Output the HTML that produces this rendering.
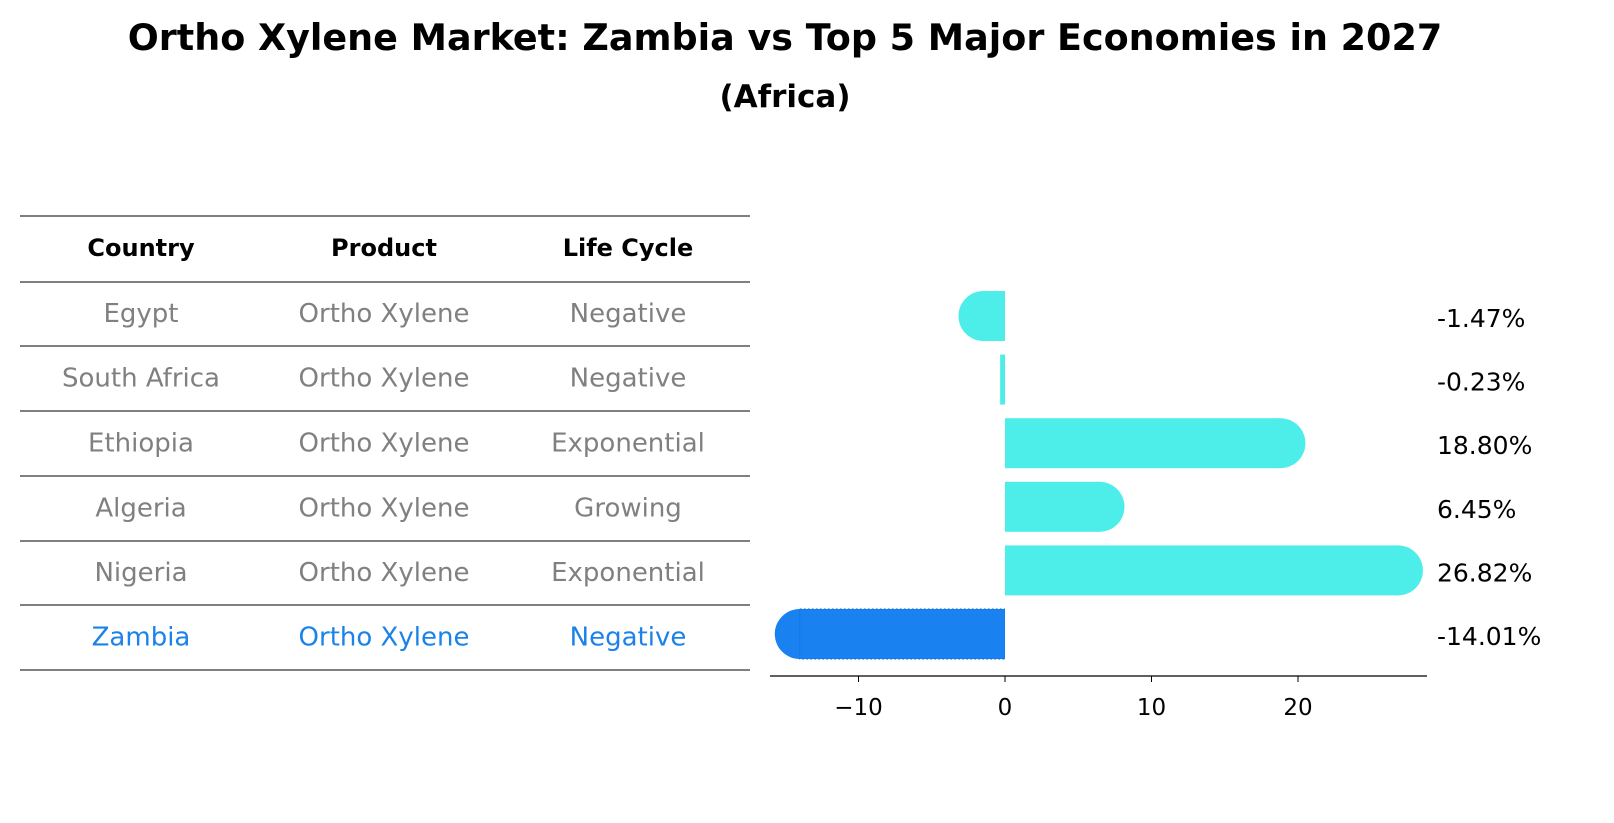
<!DOCTYPE html>
<html><head><meta charset="utf-8"><style>
html,body{margin:0;padding:0;background:#fff;overflow:hidden;width:1614px;height:823px;font-family:"Liberation Sans","DejaVu Sans",sans-serif;}
svg{display:block}
</style></head><body>
<svg width="1614" height="823" viewBox="0 0 1614 823" xmlns="http://www.w3.org/2000/svg">
<text x="785" y="50" text-anchor="middle" font-size="36.5" font-weight="bold" font-family="DejaVu Sans, sans-serif">Ortho Xylene Market: Zambia vs Top 5 Major Economies in 2027</text>
<text x="785" y="107" text-anchor="middle" font-size="31" font-weight="bold" font-family="DejaVu Sans, sans-serif">(Africa)</text>
<g id="table" font-family="DejaVu Sans, sans-serif" font-size="26" text-anchor="middle"></g>
<g id="bars"></g>
<g id="axis" font-family="DejaVu Sans, sans-serif" font-size="23" text-anchor="middle"></g>
</svg>
<script>
const countries=["Egypt","South Africa","Ethiopia","Algeria","Nigeria","Zambia"];
const products=["Ortho Xylene","Ortho Xylene","Ortho Xylene","Ortho Xylene","Ortho Xylene","Ortho Xylene"];
const lifeCycles=["Negative","Negative","Exponential","Growing","Exponential","Negative"];
const values=[-1.47,-0.23,18.80,6.45,26.82,-14.01];
const labels=["-1.47%","-0.23%","18.80%","6.45%","26.82%","-14.01%"];
const ticks=[-10,0,10,20];
const tickLabels=["\u221210","0","10","20"];
const NS="http://www.w3.org/2000/svg";
function mk(tag,attrs,parent){const e=document.createElementNS(NS,tag);for(const k in attrs)e.setAttribute(k,attrs[k]);parent.appendChild(e);return e;}
const xs=v=>1005+v*14.65;
const rowY=i=>316+i*63.6;
const tb=document.getElementById('table');
const lineYs=[216,282,346,411,476,541,605,670];
lineYs.forEach((y)=>{const l=mk('line',{x1:20,x2:750,y1:y,y2:y,stroke:'#000','stroke-width':1},tb);

});
const cols=[141,384,628];
["Country","Product","Life Cycle"].forEach((h,j)=>{const t=mk('text',{x:cols[j],y:256,'font-weight':'bold','font-size':24},tb);t.textContent=h;

});
countries.forEach((c,i)=>{const col=i===countries.length-1?'#1a82e8':'#808080';
const mid=(lineYs[i+1]+lineYs[i+2])/2-1;
[c,products[i],lifeCycles[i]].forEach((s,j)=>{const t=mk('text',{x:cols[j],y:mid+9,fill:col},tb);t.textContent=s;

});});
const bg=document.getElementById('bars');
const defs=mk('defs',{},bg);
const cpL=mk('clipPath',{id:'cl'},defs);mk('rect',{x:0,y:0,width:1005,height:823},cpL);
const cpR=mk('clipPath',{id:'cr'},defs);mk('rect',{x:1005,y:0,width:700,height:823},cpR);
const h=50,r=25;
values.forEach((v,i)=>{
  const y=rowY(i);const last=i===values.length-1;const col=last?'#1a82f0':'#4deeea';
  const g=mk('g',{'clip-path':v<0?'url(#cl)':'url(#cr)'},bg);
  
  
  if(Math.abs(v)<1){
    mk('rect',{x:Math.min(xs(v),1005)-1.5,y:y-h/2,width:Math.abs(xs(v)-1005)+3,height:h,fill:col},g);
  } else {
    const x0=Math.min(xs(v),1005),w=Math.abs(xs(v)-1005);
    mk('rect',{x:x0,y:y-h/2,width:w,height:h,fill:col},g);
    mk('circle',{cx:xs(v),cy:y,r:r,fill:col},g);
    if(last){mk('rect',{x:x0,y:y-h/2,width:w,height:h,fill:'none',stroke:'#0f6fd8','stroke-dasharray':'2 2','stroke-width':1},g);}
  }
  const t=mk('text',{x:1437,y:y+11,'font-size':25,'font-family':'DejaVu Sans, sans-serif'},bg);t.textContent=labels[i];
  
  
});
const ax=document.getElementById('axis');
const al=mk('line',{x1:770,x2:1427,y1:676,y2:676,stroke:'#000','stroke-width':1.2},ax);


ticks.forEach((t,i)=>{const tl=mk('line',{x1:xs(t),x2:xs(t),y1:676,y2:682,stroke:'#000'},ax);


const tx=mk('text',{x:xs(t),y:715},ax);tx.textContent=tickLabels[i];

});
</script>
</body></html>
